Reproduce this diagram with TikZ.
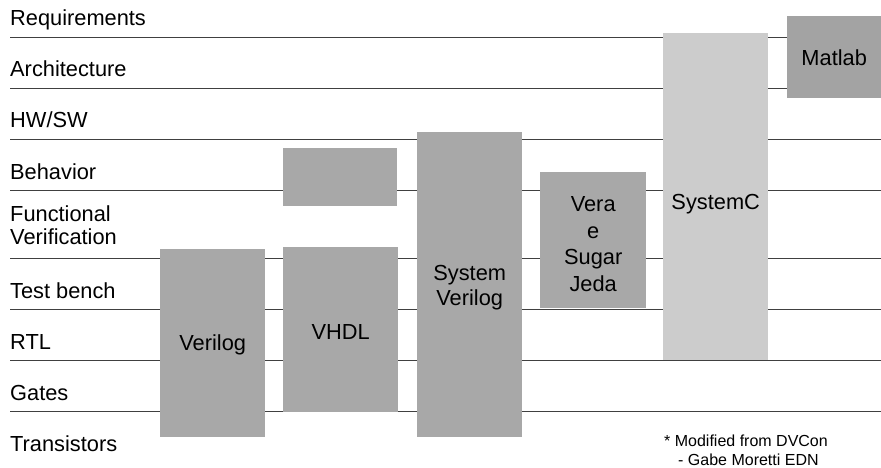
\documentclass[tikz,border=0pt]{standalone}
\usepackage{fontspec}
\setmainfont{Liberation Sans}
\begin{document}
\begin{tikzpicture}[x=1pt,y=-1pt,
  lbl/.style={anchor=base west,inner sep=0pt,font=\fontsize{21.8}{24}\selectfont},
  layer/.style={draw=black!75,line width=1.4pt},
  blk/.style={fill=black!34,draw=none,inner sep=0pt,anchor=north west,align=center,font=\fontsize{21.5}{26}\selectfont},
  lightblk/.style={blk,fill=black!20},
  btxt/.style={align=center,font=\fontsize{21.8}{26}\selectfont},
  note/.style={anchor=base west,inner sep=0pt,font=\fontsize{16}{19}\selectfont}]
\useasboundingbox (0,0) rectangle (881,468);
% layer lines
\foreach \yy in {37.5,88.5,139.5,190.5,258.5,309.5,360.5,411.5}
  \draw[layer] (10,\yy) -- (881,\yy);
% labels
\node[lbl] (req) at (10,26) {Requirements};
\node[lbl] (arch) at (10,77) {Architecture};
\node[lbl] (hwsw) at (10,128) {HW/SW};
\node[lbl] (beh) at (10,179) {Behavior};
\node[lbl] (func) at (10,221) {Functional};
\node[lbl] (verif) at (10,244) {Verification};
\node[lbl] (tb) at (10,298) {Test bench};
\node[lbl] (rtl) at (10,349) {RTL};
\node[lbl] (gates) at (10,400) {Gates};
\node[lbl] (trans) at (10,451) {Transistors};
% blocks
\node[blk,minimum width=105,minimum height=188] (verilog) at (160,249) {};
\node at ([yshift=-2]verilog.center) [btxt] (verilogt) {Verilog};
\node[blk,minimum width=115,minimum height=165] (vhdl) at (283,247) {};
\node at ([yshift=-2]vhdl.center) [btxt] (vhdlt) {VHDL};
\node[blk,minimum width=114,minimum height=58] (behbox) at (283,148) {};
\node[blk,minimum width=105,minimum height=305] (sv) at (417,132) {};
\node at ([yshift=-3]sv.center) [btxt,font=\fontsize{21.8}{25}\selectfont] (svt) {System\\Verilog};
\node[blk,minimum width=106,minimum height=136] (vera) at (540,172) {};
\node at ([yshift=-4]vera.center) [btxt,font=\fontsize{21.8}{26.5}\selectfont] (verat) {Vera\\e\\Sugar\\Jeda};
\node[lightblk,minimum width=105,minimum height=327] (sysc) at (663,33) {};
\node at ([yshift=-7]sysc.center) [btxt] (sysct) {SystemC};
\node[blk,fill=black!36,minimum width=94,minimum height=82] (matlab) at (787,16) {};
\node at ([yshift=-1]matlab.center) [btxt] (matlabt) {Matlab};
% footnote
\node[note] (n1) at (664,446) {* Modified from DVCon};
\node[note] (n2) at (678,465) {- Gabe Moretti EDN};
\end{tikzpicture}
\end{document}
